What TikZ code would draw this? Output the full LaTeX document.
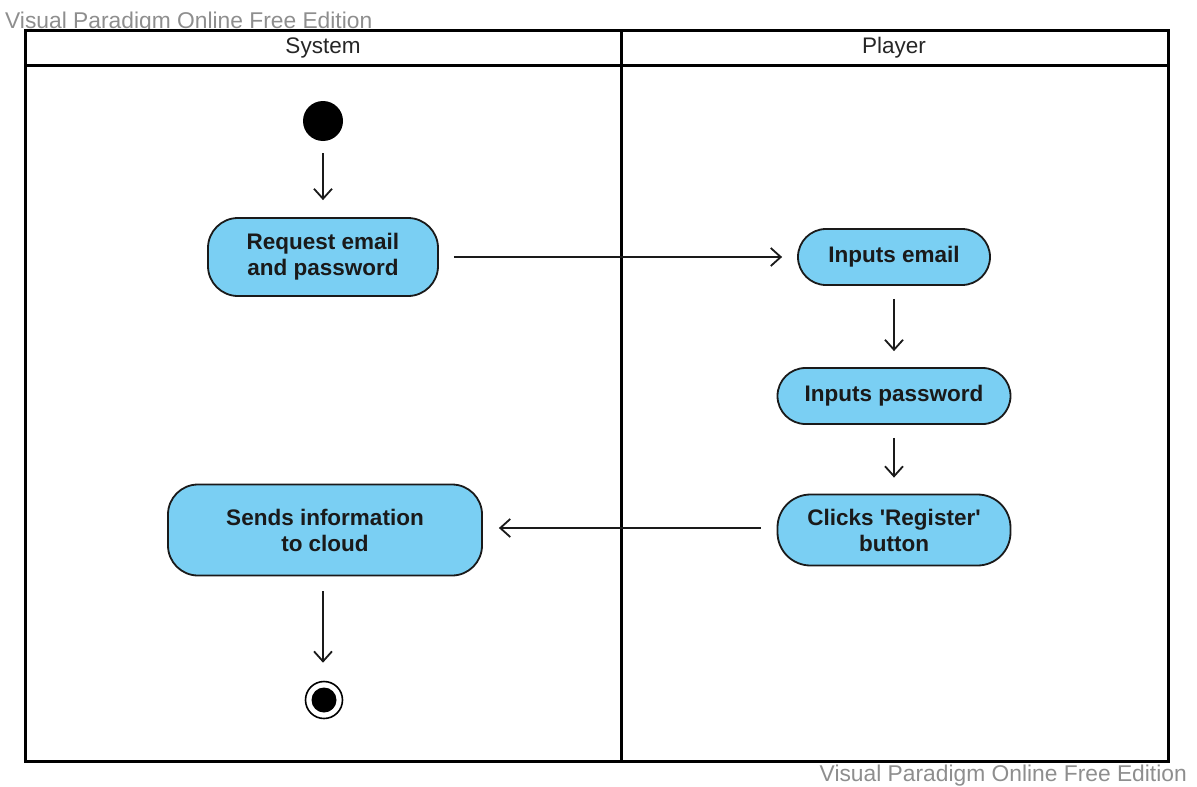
\documentclass[tikz,border=0pt]{standalone}
\usepackage{fontspec}
\setmainfont{Liberation Sans}[Ligatures=NoCommon]
\usetikzlibrary{arrows.meta}
\definecolor{actfill}{HTML}{7ACFF3}
\definecolor{actline}{HTML}{1A1A1A}
\definecolor{wmark}{HTML}{8E8E8E}
\tikzset{
  lane/.style={draw=black, line width=3pt},
  action/.style={draw=actline, fill=actfill, line width=1.8pt, align=center,
    font=\fontsize{22.5}{26}\selectfont\bfseries, text=actline, inner sep=0pt},
  flow/.style={draw=actline, line width=1.8pt,
    -{Straight Barb[length=10pt, width=18pt, line width=1.8pt]},
    shorten <=13pt, shorten >=16pt},
  header/.style={font=\fontsize{22.5}{26}\selectfont, text=black!85},
  watermark/.style={font=\fontsize{22.8}{26}\selectfont, text=wmark, inner sep=0pt}
}
\begin{document}
\begin{tikzpicture}[x=1pt, y=-1pt]
  \useasboundingbox (0,0) rectangle (1197,787);

  % watermarks
  \node[watermark, anchor=base west] (wmtop) at (5,28) {Visual Paradigm Online Free Edition};
  \node[watermark, anchor=base east] (wmbot) at (1187,781) {Visual Paradigm Online Free Edition};

  % swimlane frame
  \draw[lane, fill=white] (25,30) rectangle (1168,761);
  \draw[lane] (25,65) -- (1168,65);
  \draw[lane] (621,30) -- (621,761);
  \node[header] (hsys) at (323,47.5) {System};
  \node[header] (hply) at (894,47.5) {Player};

  % initial and final states
  \node[circle, fill=black, minimum size=40pt, inner sep=0pt] (init) at (323,121) {};
  \node[circle, draw=black, line width=1.6pt, fill=white, minimum size=37pt, inner sep=0pt] (final) at (324,700) {};
  \node[circle, fill=black, minimum size=25pt, inner sep=0pt] (finaldot) at (324,700) {};

  % actions
  \node[action, minimum width=230pt, minimum height=78pt, rounded corners=30pt] (req) at (323,257)
    {Request email\\and password};
  \node[action, minimum width=192pt, minimum height=56pt, rounded corners=28pt] (email) at (894,257)
    {Inputs email};
  \node[action, minimum width=233pt, minimum height=56pt, rounded corners=28pt] (pass) at (894,396)
    {Inputs password};
  \node[action, minimum width=233pt, minimum height=71pt, rounded corners=33pt] (click) at (894,530)
    {Clicks \textquotesingle Register\textquotesingle\\button};
  \node[action, minimum width=314pt, minimum height=91pt, rounded corners=30pt] (send) at (325,530)
    {Sends information\\to cloud};

  % control flows
  \draw[flow, shorten <=12pt, shorten >=17pt] (init) -- (req);
  \draw[flow, shorten <=15pt, shorten >=15pt] (req.east) -- (email.west);
  \draw[flow] (email) -- (pass);
  \draw[flow] (pass) -- (click);
  \draw[flow, shorten <=16pt, shorten >=16pt] (click.west |- 0,528) -- (send.east |- 0,528);
  \draw[flow, shorten <=15pt, shorten >=18pt] (send.south -| 323,0) -- (final.north -| 323,0);
\end{tikzpicture}
\end{document}
